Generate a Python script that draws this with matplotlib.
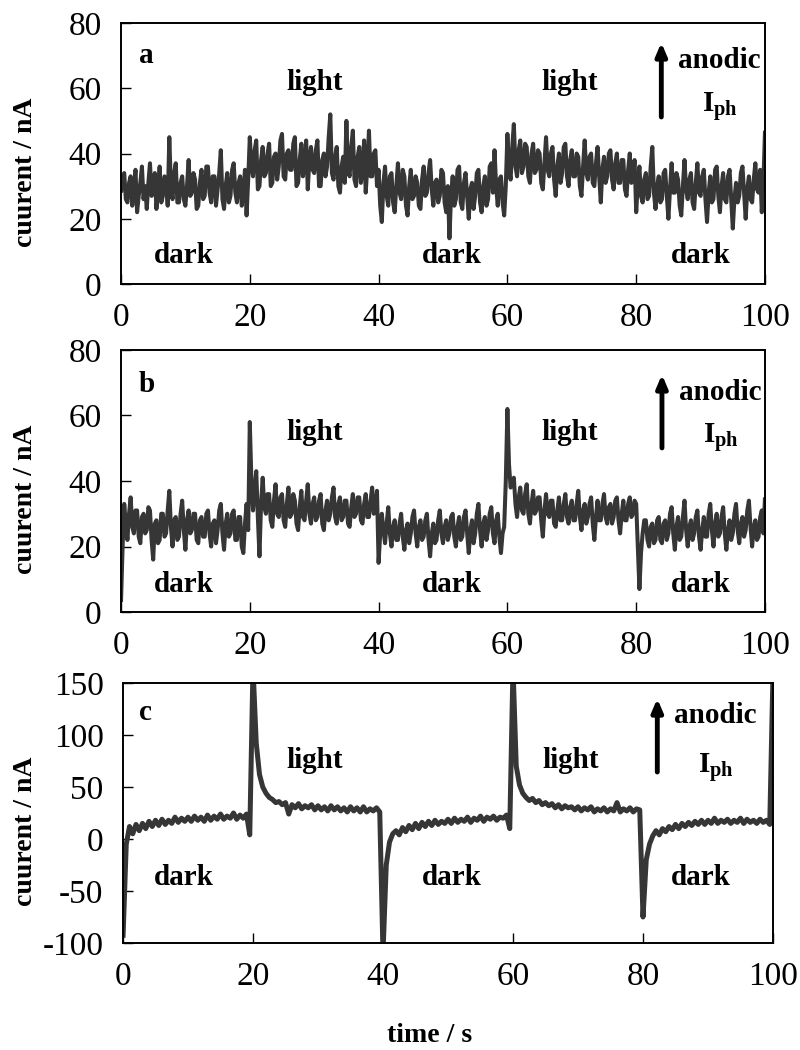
import numpy as np
import matplotlib
matplotlib.use("Agg")
import matplotlib.pyplot as plt

plt.rcParams['font.family'] = ['Liberation Serif', 'DejaVu Serif']
plt.rcParams['mathtext.fontset'] = 'custom'
plt.rcParams['mathtext.rm'] = 'Liberation Serif'
plt.rcParams['mathtext.bf'] = 'Liberation Serif:bold'

# panels a and b: 0 .. 100 s sampled every 0.25 s (one row = 5 s)
current_a = [
    28, 33, 34, 26, 25, 31, 33, 24, 29, 35, 22, 27, 31, 36, 26, 30, 23, 31, 37, 27,
    28, 34, 23, 29, 36, 25, 27, 33, 32, 24, 45, 30, 26, 34, 37, 25, 25, 31, 33, 26,
    24, 30, 38, 27, 28, 34, 32, 23, 24, 31, 35, 26, 27, 36, 36, 28, 25, 33, 33, 24,
    29, 34, 41, 26, 23, 30, 34, 25, 27, 35, 37, 28, 25, 31, 33, 24, 28, 35, 21, 32,
    45, 36, 33, 41, 44, 29, 30, 38, 42, 33, 34, 40, 43, 30, 31, 39, 40, 32, 36, 44,
    46, 33, 32, 40, 41, 35, 35, 43, 45, 30, 31, 38, 43, 33, 37, 44, 29, 38, 42, 35,
    34, 41, 44, 30, 30, 38, 40, 33, 36, 45, 52, 34, 32, 39, 42, 30, 28, 36, 39, 31,
    50, 35, 33, 42, 47, 32, 30, 39, 42, 31, 35, 44, 28, 36, 47, 33, 33, 40, 41, 30,
    35, 24, 19, 31, 36, 27, 24, 33, 34, 25, 22, 30, 37, 28, 26, 35, 33, 24, 21, 30,
    35, 26, 27, 33, 31, 24, 23, 32, 36, 27, 28, 34, 38, 29, 24, 31, 32, 25, 27, 35,
    34, 25, 22, 30, 14, 27, 33, 24, 26, 35, 36, 25, 23, 31, 34, 27, 20, 29, 31, 23,
    27, 34, 35, 25, 22, 30, 33, 24, 26, 36, 37, 28, 41, 30, 24, 32, 33, 25, 21, 30,
    46, 35, 32, 42, 49, 36, 33, 41, 44, 34, 36, 43, 42, 33, 31, 40, 43, 34, 35, 41,
    40, 31, 29, 37, 45, 35, 33, 40, 42, 32, 27, 36, 40, 31, 34, 42, 43, 33, 30, 38,
    41, 33, 33, 40, 39, 30, 27, 36, 44, 34, 32, 39, 40, 31, 30, 37, 42, 33, 25, 35,
    39, 31, 33, 40, 41, 32, 29, 37, 40, 31, 31, 38, 38, 29, 27, 35, 40, 31, 33, 38,
    22, 31, 36, 27, 25, 32, 34, 26, 27, 36, 42, 28, 23, 30, 33, 25, 26, 34, 35, 27,
    20, 29, 37, 28, 28, 34, 32, 24, 21, 30, 38, 29, 26, 32, 34, 25, 23, 31, 37, 28,
    27, 33, 35, 26, 19, 28, 33, 25, 26, 35, 36, 27, 22, 30, 34, 26, 25, 33, 35, 26,
    17, 26, 31, 25, 27, 34, 36, 28, 20, 29, 33, 26, 25, 32, 37, 29, 28, 35, 22, 31,
    47,
]

current_b = [
    3, 20, 33, 27, 22, 30, 35, 26, 24, 31, 31, 23, 21, 29, 30, 24, 25, 32, 31, 22,
    16, 27, 28, 21, 22, 30, 30, 23, 24, 31, 37, 26, 20, 28, 29, 22, 23, 30, 34, 25,
    19, 28, 31, 24, 25, 30, 30, 22, 21, 28, 29, 23, 23, 30, 31, 24, 20, 27, 28, 21,
    25, 31, 33, 24, 19, 27, 30, 23, 24, 30, 31, 22, 22, 29, 29, 20, 18, 27, 33, 25,
    58, 40, 31, 38, 43, 29, 17, 33, 41, 32, 30, 36, 36, 28, 26, 34, 39, 30, 29, 35,
    36, 28, 26, 33, 38, 29, 30, 36, 34, 27, 25, 32, 37, 29, 28, 34, 39, 30, 27, 33,
    35, 28, 29, 34, 36, 27, 25, 31, 34, 28, 30, 35, 38, 29, 27, 33, 35, 28, 29, 34,
    34, 27, 26, 32, 36, 29, 30, 35, 35, 28, 27, 33, 36, 29, 29, 34, 38, 30, 31, 37,
    15, 24, 30, 25, 21, 27, 32, 24, 20, 26, 28, 22, 22, 27, 30, 23, 19, 25, 27, 21,
    24, 29, 31, 24, 20, 26, 28, 22, 23, 28, 30, 22, 17, 24, 27, 21, 22, 28, 31, 24,
    21, 26, 28, 22, 24, 29, 30, 23, 20, 26, 29, 22, 23, 29, 31, 24, 18, 25, 28, 21,
    24, 30, 33, 25, 20, 27, 29, 22, 25, 30, 32, 24, 21, 28, 30, 23, 18, 24, 26, 40,
    62, 45, 38, 40, 41, 33, 29, 35, 38, 31, 30, 36, 39, 30, 27, 33, 37, 30, 31, 35,
    35, 28, 23, 31, 36, 30, 29, 34, 34, 27, 26, 31, 35, 28, 28, 33, 36, 29, 27, 32,
    34, 28, 28, 33, 37, 29, 25, 31, 33, 27, 29, 33, 35, 27, 22, 29, 34, 28, 28, 33,
    36, 29, 27, 32, 33, 27, 29, 34, 35, 28, 24, 30, 34, 28, 28, 33, 35, 29, 30, 34,
    33, 20, 7, 18, 24, 28, 28, 22, 20, 26, 27, 21, 22, 28, 29, 22, 21, 27, 28, 22,
    24, 30, 32, 24, 19, 26, 29, 22, 23, 29, 34, 25, 20, 26, 28, 22, 24, 29, 31, 23,
    19, 25, 29, 23, 23, 30, 33, 25, 20, 27, 30, 23, 24, 29, 32, 24, 19, 25, 28, 22,
    24, 30, 33, 25, 21, 27, 29, 23, 25, 31, 34, 26, 20, 26, 28, 22, 23, 29, 31, 24,
    35,
]

# panel c: 0 .. 100 s sampled every 0.5 s (one row = 10 s)
current_c = [
    -95, -5, 12, 5, 14, 8, 15, 10, 17, 12, 18, 13, 19, 14, 18, 15, 21, 16, 20, 17,
    21, 17, 22, 18, 21, 17, 23, 18, 22, 19, 24, 19, 22, 20, 25, 19, 23, 20, 24, 4,
    165, 92, 62, 50, 44, 40, 38, 35, 36, 33, 35, 24, 33, 30, 34, 29, 32, 30, 33, 28,
    32, 28, 31, 27, 32, 28, 31, 27, 30, 26, 31, 27, 30, 26, 31, 26, 29, 27, 30, 26,
    -110, -25, -3, 5, 8, 4, 11, 7, 13, 9, 15, 10, 16, 12, 17, 13, 18, 14, 17, 15,
    19, 15, 20, 16, 19, 17, 21, 16, 20, 18, 22, 17, 21, 19, 22, 18, 21, 20, 23, 10,
    165, 70, 52, 44, 40, 37, 39, 35, 37, 33, 35, 32, 34, 30, 33, 29, 32, 30, 31, 28,
    31, 27, 30, 28, 31, 26, 29, 27, 30, 26, 29, 27, 35, 26, 29, 27, 30, 26, 29, 28,
    -75, -20, -5, 3, 8, 4, 10, 7, 12, 9, 14, 10, 15, 12, 16, 13, 17, 14, 18, 14,
    18, 15, 20, 15, 18, 16, 19, 15, 18, 16, 20, 15, 19, 16, 18, 15, 19, 16, 18, 14,
    160,
]

time_a = np.arange(len(current_a)) * 0.25
time_b = np.arange(len(current_b)) * 0.25
time_c = np.arange(len(current_c)) * 0.5

panel_letters = ['a', 'b', 'c']
ylims = [(0, 80), (0, 80), (-100, 150)]
yticks = [[0, 20, 40, 60, 80], [0, 20, 40, 60, 80], [-100, -50, 0, 50, 100, 150]]
xticks = [0, 20, 40, 60, 80, 100]

fig = plt.figure(figsize=(8, 10.5), dpi=100)
rects = [
    [121 / 800, 1 - 284 / 1050, 644 / 800, 261 / 1050],
    [121 / 800, 1 - 612 / 1050, 644 / 800, 262 / 1050],
    [123 / 800, 1 - 943 / 1050, 650 / 800, 260 / 1050],
]
series = [(time_a, current_a), (time_b, current_b), (time_c, current_c)]
trace_color = '#363636'
trace_lw = [2.9, 2.9, 3.6]

# annotation positions (data coords)
ann = [
    dict(letter=(2.8, 67.7), light=[(30.0, 59.5), (69.7, 59.5)], dark=[(9.7, 6.4), (51.4, 6.4), (90.1, 6.4)],
         arrow=((83.9, 51.2), (83.9, 74.0)), anodic=(86.5, 66.2), iph=(90.2, 52.7)),
    dict(letter=(2.8, 67.2), light=[(30.0, 52.5), (69.7, 52.5)], dark=[(9.7, 6.1), (51.4, 6.1), (90.1, 6.1)],
         arrow=((84.0, 50.1), (84.0, 72.5)), anodic=(86.6, 64.7), iph=(90.3, 51.6)),
    dict(letter=(2.5, 114), light=[(29.5, 68), (68.8, 68)], dark=[(9.3, -44), (50.6, -44), (88.9, -44)],
         arrow=((82.2, 64.4), (82.2, 135.0)), anodic=(84.8, 111.5), iph=(88.5, 63.5)),
]

text_fs = 21
for i in range(3):
    ax = fig.add_axes(rects[i])
    t, y = series[i]
    ax.plot(t, y, color=trace_color, lw=trace_lw[i], solid_joinstyle='round', solid_capstyle='butt')
    ax.set_xlim(0, 100)
    ax.set_ylim(*ylims[i])
    ax.set_xticks(xticks)
    ax.set_yticks(yticks[i])
    ax.set_yticklabels([str(v) for v in yticks[i]])
    ax.tick_params(direction='in', length=7, width=1.0, labelsize=24, top=False, right=False)
    ax.tick_params(axis='x', pad=13)
    ax.tick_params(axis='y', pad=14)
    for sp in ax.spines.values():
        sp.set_linewidth(1.4)
        sp.set_zorder(3)
    ax.set_ylabel('cuurent / nA', fontsize=20, fontweight='bold')
    w_px = rects[i][2] * 800
    x0_px = rects[i][0] * 800
    ax.yaxis.set_label_coords((38 - x0_px) / w_px, 0.43)

    a = ann[i]
    ax.text(a['letter'][0], a['letter'][1], panel_letters[i], fontsize=text_fs, fontweight='bold',
            ha='left', va='baseline')
    for (x, yy) in a['light']:
        ax.text(x, yy, 'light', fontsize=text_fs, fontweight='bold', ha='center', va='baseline')
    for (x, yy) in a['dark']:
        ax.text(x, yy, 'dark', fontsize=text_fs, fontweight='bold', ha='center', va='baseline')
    ax.annotate('', xy=a['arrow'][1], xytext=a['arrow'][0],
                arrowprops=dict(arrowstyle='-|>,head_width=0.32,head_length=0.75', lw=3.5, color='black',
                                shrinkA=0, shrinkB=0))
    ax.text(a['anodic'][0], a['anodic'][1], 'anodic', fontsize=text_fs, fontweight='bold',
            ha='left', va='baseline')
    ax.text(a['iph'][0], a['iph'][1], r'$\mathbf{I}_{\mathbf{ph}}$', fontsize=text_fs,
            ha='left', va='baseline')

fig.text(430 / 800, 1 - 1036 / 1050, 'time / s', fontsize=20, fontweight='bold', ha='center', va='center')

fig.savefig('out.png', dpi=100)
